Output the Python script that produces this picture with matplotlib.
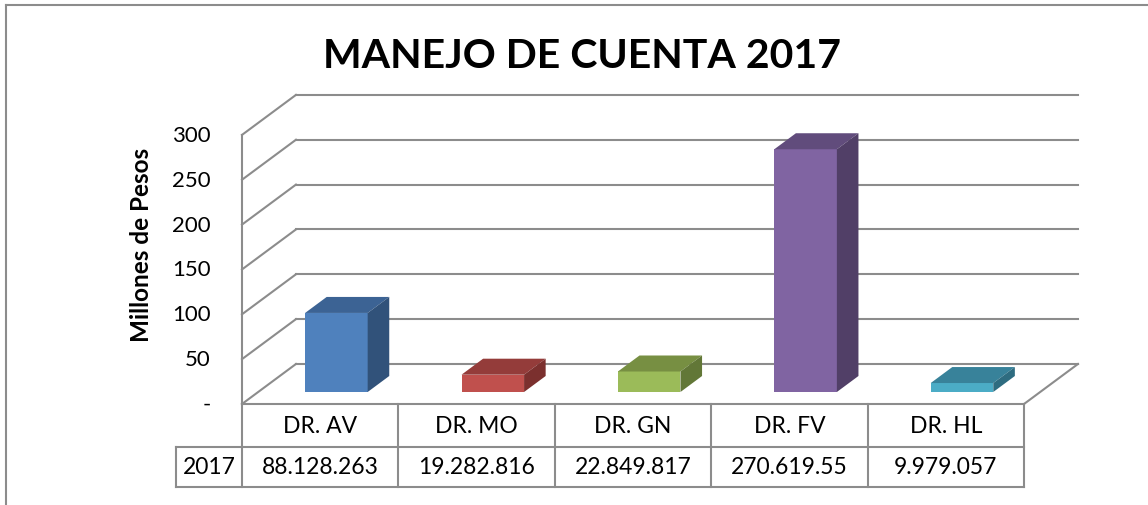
import matplotlib
matplotlib.use('Agg')
import matplotlib.pyplot as plt
from matplotlib.patches import Polygon

# data (millions of pesos)
doctores = ["DR. AV", "DR. MO", "DR. GN", "DR. FV", "DR. HL"]
valores = [88.128263, 19.282816, 22.849817, 270.61955, 9.979057]
etiquetas_tabla = ["88.128.263", "19.282.816", "22.849.817", "270.619.55", "9.979.057"]
serie = "2017"
yticks = [0, 50, 100, 150, 200, 250, 300]
ytick_labels = ["-", "50", "100", "150", "200", "250", "300"]

frentes = ["#4F81BD", "#C0504D", "#9BBB59", "#8064A2", "#4BACC6"]
techos = ["#3C6394", "#943C3A", "#778F42", "#614C7C", "#38829A"]
lados = ["#31527A", "#7B302E", "#627737", "#513F67", "#2E6C80"]

plt.rcParams['font.family'] = ['Lato', 'DejaVu Sans']
GRIS = "#8c8c8c"

fig = plt.figure(figsize=(11.48, 5.06), dpi=100)
ax = fig.add_axes([0, 0, 1, 1])
# map categories/values onto the picture
ax.set_xlim(-1.5473, 5.7928)
ax.set_ylim(-112.6, 451.5)
ax.axis('off')

n = len(doctores)
DX, DY = 0.345, 44.6   # oblique depth offset
ymax = yticks[-1]


def P(x, y, d):
    return (x + d * DX, y + d * DY)


# chart area border
fig.add_artist(plt.Line2D([6 / 1148, 6 / 1148], [0, 1 - 6 / 506], color=GRIS, lw=1.5))
fig.add_artist(plt.Line2D([6 / 1148, 1], [1 - 6 / 506, 1 - 6 / 506], color=GRIS, lw=1.5))

# walls and gridlines
for t in yticks:
    (x0, y0), (x1, y1) = P(0, t, 0), P(0, t, 1)
    ax.plot([x0, x1], [y0, y1], color=GRIS, lw=1.5, zorder=1)
    ax.plot([x1, P(n, t, 1)[0]], [y1, y1], color=GRIS, lw=1.5, zorder=1)
ax.plot([0, 0], [0, ymax], color=GRIS, lw=1.5, zorder=1)
ax.plot([0, n], [0, 0], color=GRIS, lw=1.5, zorder=1)
(xa, ya), (xb, yb) = P(n, 0, 0), P(n, 0, 1)
ax.plot([xa, xb], [ya, yb], color=GRIS, lw=1.5, zorder=1)

for t, lab in zip(yticks, ytick_labels):
    ax.text(-0.198, t, lab, ha='right', va='center', fontsize=16)
ax.text(-0.64, 178, "Millones de Pesos", rotation=90, ha='center', va='center',
        fontsize=17.5, fontweight='bold')

# bars
d0, d1 = 0.3, 0.7
xs = [i + 0.3 + d0 * DX for i in range(n)]
ax.bar(xs, valores, width=0.4, bottom=d0 * DY, align='edge', color=frentes,
       edgecolor='none', zorder=3)
for i, v in enumerate(valores):
    xl, xr = i + 0.3, i + 0.7
    top = [P(xl, v, d0), P(xr, v, d0), P(xr, v, d1), P(xl, v, d1)]
    side = [P(xr, 0, d0), P(xr, v, d0), P(xr, v, d1), P(xr, 0, d1)]
    ax.add_patch(Polygon(top, closed=True, facecolor=techos[i], edgecolor='none', zorder=3))
    ax.add_patch(Polygon(side, closed=True, facecolor=lados[i], edgecolor='none', zorder=3))

# data table
r1, r2 = -47.9, -92.5
xlab = -0.422
ax.plot([0, n], [r1, r1], color=GRIS, lw=1.5)
ax.plot([xlab, n], [r2, r2], color=GRIS, lw=1.5)
ax.plot([xlab, 0], [r1, r1], color=GRIS, lw=1.5)
ax.plot([xlab, xlab], [r1, r2], color=GRIS, lw=1.5)
for i in range(n + 1):
    ax.plot([i, i], [0, r2], color=GRIS, lw=1.5)
for i in range(n):
    ax.text(i + 0.5, r1 / 2, doctores[i], ha='center', va='center', fontsize=16.5)
    ax.text(i + 0.5, (r1 + r2) / 2, etiquetas_tabla[i], ha='center', va='center', fontsize=16.5)
ax.text(xlab / 2, (r1 + r2) / 2, serie, ha='center', va='center', fontsize=16.5)

fig.text(582 / 1148, 1 - 57 / 506, "MANEJO DE CUENTA 2017", ha='center', va='center',
         fontsize=29.5, fontweight='bold')

fig.savefig("out.png", dpi=100)
plt.close(fig)
